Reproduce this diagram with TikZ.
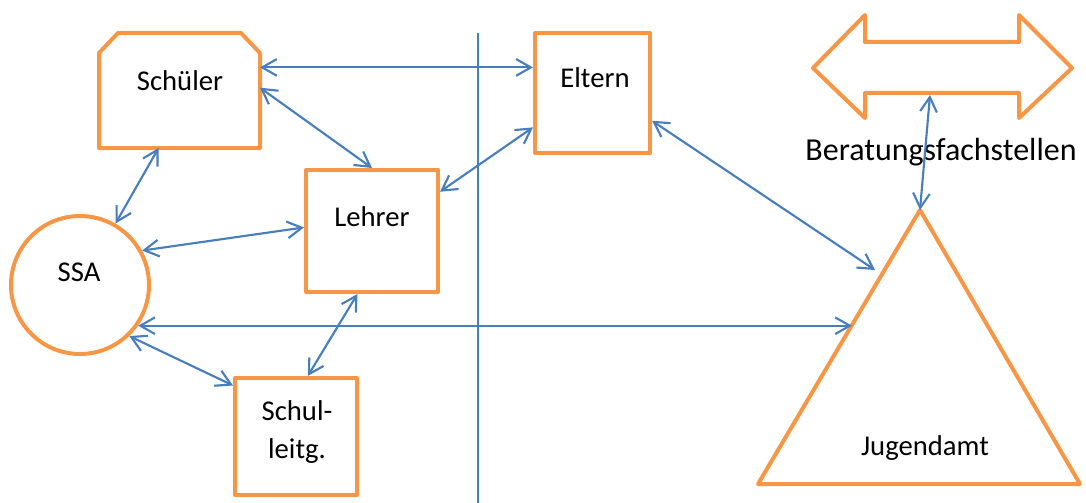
\documentclass[tikz,border=0pt]{standalone}
\usepackage{fontspec}
\setmainfont{Carlito}
\usetikzlibrary{arrows.meta,calc}
\definecolor{orng}{HTML}{F79646}
\definecolor{blu}{HTML}{4A7EBB}

\begin{document}
\begin{tikzpicture}[x=0.75pt,y=-0.75pt,
  shapebox/.style={draw=orng, line width=3pt, rectangle, inner sep=0pt, line join=round},
  outline/.style={draw=orng, line width=3pt, line join=round},
  conn/.style={draw=blu, line width=1.6pt,
    {Straight Barb[length=11pt,width=12.5pt]}-{Straight Barb[length=11pt,width=12.5pt]}},
  sepline/.style={draw=blu, line width=1.6pt},
  lbl/.style={font=\fontsize{21.5}{28.5}\selectfont, anchor=base, inner sep=0pt, align=center},
  biglbl/.style={font=\fontsize{24}{28}\selectfont, anchor=base, inner sep=0pt},
]
\useasboundingbox (0,0) rectangle (1086,503);

% vertical separator
\coordinate (vtop) at (478,33);
\coordinate (vbot) at (478,503);
\draw[sepline] (vtop) -- (vbot);

% boxes
\node[shapebox, minimum width=86.25pt, minimum height=90pt] (eltern) at (592.5,93) {};
\node[shapebox, minimum width=99pt, minimum height=91.5pt] (lehrer) at (372,231) {};
\node[shapebox, minimum width=91.5pt, minimum height=87.75pt] (leitung) at (296,436.5) {};
\node[shapebox, circle, minimum size=103.5pt] (ssa) at (80,285) {};

% Schüler: box with cut top corners
\node[rectangle, inner sep=0pt, outer sep=0pt, minimum width=120.75pt, minimum height=86.25pt] (schueler) at (179.5,90.5) {};
\draw[outline] (schueler.south west) -- ($(schueler.north west)+(0,20)$)
  -- ($(schueler.north west)+(19,0)$) -- ($(schueler.north east)+(-19,0)$)
  -- ($(schueler.north east)+(0,20)$) -- (schueler.south east) -- cycle;

% Jugendamt triangle
\coordinate (jt) at (920,210);
\coordinate (jl) at (758,484);
\coordinate (jr) at (1080,484);
\draw[outline] (jt) -- (jr) -- (jl) -- cycle;
\coordinate (jn) at (875,270);
\coordinate (jm) at (852,325);

% double-headed block arrow
\draw[outline] (813,68) -- (865,15) -- (865,42) -- (1019,42) -- (1019,15) -- (1072,68)
  -- (1019,118) -- (1019,93) -- (865,93) -- (865,118) -- cycle;
\coordinate (ba) at (930,95);

% labels
\node[lbl] (t-schueler) at (180,91) {Schüler};
\node[lbl] (t-eltern) at (595,88) {Eltern};
\node[lbl] (t-lehrer) at (372,226) {Lehrer};
\node[lbl] (t-ssa) at (79,281) {SSA};
\node[lbl] (t-leitung) at (297,458) {Schul-\\leitg.};
\node[lbl] (t-jugend) at (925,455) {Jugendamt};
\node[biglbl] (t-beratung) at (941,161) {Beratungsfachstellen};

% connectors
\draw[conn] (schueler.16) -- (schueler.16 -| eltern.west);
\draw[conn] (schueler.2) -- (lehrer.north);
\draw[conn] (schueler.250) -- (ssa.60);
\draw[conn] (ssa.29) -- (lehrer.177);
\draw[conn] (lehrer.30) -- (eltern.210);
\draw[conn] (eltern.-25) -- (jn);
\draw[conn] (ssa.-35.5) -- (ssa.-35.5 -| jm);
\draw[conn] (ssa.-46) -- (leitung.141.5);
\draw[conn] (lehrer.257) -- (leitung.79.4);
\draw[conn] (ba) -- (jt);
\end{tikzpicture}
\end{document}
